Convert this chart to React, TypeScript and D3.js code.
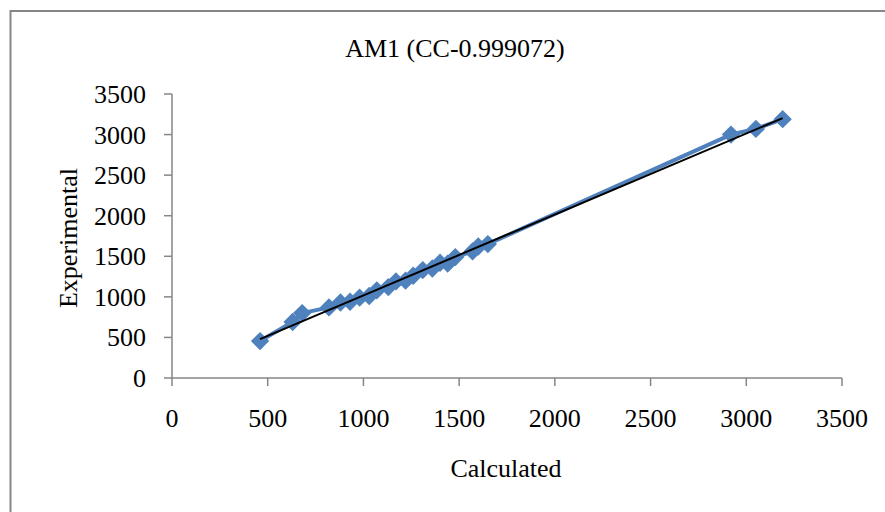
import React from "react";
import * as d3 from "d3";

// Calculated vs. experimental values for the AM1 method
const calculated = [460, 630, 680, 820, 880, 930, 980, 1030, 1070, 1130, 1170, 1220, 1260, 1310, 1360, 1400, 1440, 1480, 1570, 1600, 1650, 2920, 3050, 3190];
const experimental = [455, 690, 800, 870, 930, 940, 990, 1010, 1080, 1120, 1190, 1200, 1260, 1330, 1350, 1420, 1410, 1490, 1560, 1620, 1650, 3000, 3070, 3190];
const xTicks = [0, 500, 1000, 1500, 2000, 2500, 3000, 3500];
const yTicks = [0, 500, 1000, 1500, 2000, 2500, 3000, 3500];
const titleText = "AM1 (CC-0.999072)";
const xTitle = "Calculated";
const yTitle = "Experimental";

const W = 885;
const H = 512;
const left = 172;
const right = 842;
const top = 94;
const bottom = 378;
const axisColor = "#868686";
const blue = "#4F81BD";
const font = "'Liberation Serif', 'Times New Roman', serif";

export default function App() {
  const x = d3.scaleLinear().domain([0, 3500]).range([left, right]);
  const y = d3.scaleLinear().domain([0, 3500]).range([bottom, top]);

  const pts = calculated.map((c, i) => [c, experimental[i]] as [number, number]);
  const line = d3
    .line<[number, number]>()
    .x((d) => x(d[0]))
    .y((d) => y(d[1]));

  // least-squares trendline across the data range
  const mx = d3.mean(calculated)!;
  const my = d3.mean(experimental)!;
  const sxy = d3.sum(pts, (p) => (p[0] - mx) * (p[1] - my));
  const sxx = d3.sum(pts, (p) => (p[0] - mx) ** 2);
  const slope = sxy / sxx;
  const icpt = my - slope * mx;
  const x0 = d3.min(calculated)!;
  const x1 = d3.max(calculated)!;

  const diamond = d3.symbol().type(d3.symbolDiamond2).size(215)();

  return (
    <svg
      width={W}
      height={H}
      style={{ position: "absolute", left: 0, top: 0, background: "#fff" }}
      fontFamily={font}
    >
      <rect x={0} y={0} width={W} height={H} fill="#fff" />
      <rect x={10.5} y={11} width={W + 20} height={H + 20} fill="none" stroke={axisColor} strokeWidth={2} />

      <text x={455} y={57} textAnchor="middle" fontSize={26} fill="#000">
        {titleText}
      </text>

      {/* axes */}
      <line x1={left} x2={left} y1={top} y2={bottom} stroke={axisColor} strokeWidth={1.5} />
      <line x1={left} x2={right} y1={bottom} y2={bottom} stroke={axisColor} strokeWidth={1.5} />
      {yTicks.map((t) => (
        <g key={"y" + t}>
          <line x1={left - 8} x2={left} y1={y(t)} y2={y(t)} stroke={axisColor} strokeWidth={1.5} />
          <text x={146} y={y(t) + 9} textAnchor="end" fontSize={26} fill="#000">
            {t}
          </text>
        </g>
      ))}
      {xTicks.map((t) => (
        <g key={"x" + t}>
          <line x1={x(t)} x2={x(t)} y1={bottom} y2={bottom + 8} stroke={axisColor} strokeWidth={1.5} />
          <text x={x(t)} y={427} textAnchor="middle" fontSize={26} fill="#000">
            {t}
          </text>
        </g>
      ))}

      <text x={506} y={477} textAnchor="middle" fontSize={26} fill="#000">
        {xTitle}
      </text>
      <text
        transform={`translate(77, 238) rotate(-90)`}
        textAnchor="middle"
        fontSize={26}
        fill="#000"
      >
        {yTitle}
      </text>

      {/* series */}
      <path d={line(pts)!} fill="none" stroke={blue} strokeWidth={4} strokeLinejoin="round" />
      {pts.map((p, i) => (
        <path key={i} d={diamond!} transform={`translate(${x(p[0])},${y(p[1])})`} fill={blue} />
      ))}

      {/* trendline */}
      <line
        x1={x(x0)}
        y1={y(slope * x0 + icpt)}
        x2={x(x1)}
        y2={y(slope * x1 + icpt)}
        stroke="#000"
        strokeWidth={2}
      />
    </svg>
  );
}
